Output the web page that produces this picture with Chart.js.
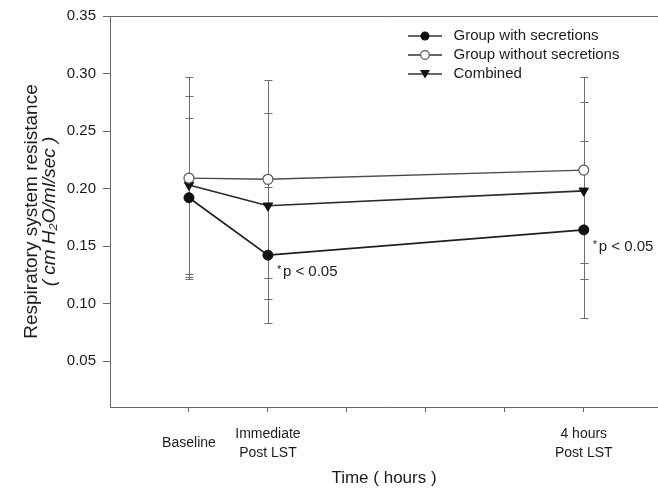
<!DOCTYPE html>
<html>
<head>
<meta charset="utf-8">
<script src="https://cdn.jsdelivr.net/npm/chart.js@4/dist/chart.umd.min.js"></script>
<style>
  html, body { margin: 0; padding: 0; background: #fff; }
  #wrap { width: 658px; height: 500px; }
</style>
</head>
<body>
<div id="wrap"><canvas id="chart" width="658" height="500"></canvas></div>
<script>
// Measurement times (hours relative to LST) and their axis labels
const timePoints = [-1, 0, 4];
const timeLabels = [['Baseline'], ['Immediate', 'Post LST'], ['4 hours', 'Post LST']];
const hourTicks = [-1, 0, 1, 2, 3, 4];
const resistanceTicks = [0.05, 0.10, 0.15, 0.20, 0.25, 0.30, 0.35];

// Respiratory system resistance, mean and SD per time point
const seriesNames = ['Group with secretions', 'Group without secretions', 'Combined'];
const withSecretionsMean = [0.192, 0.142, 0.164];
const withSecretionsSD = [0.069, 0.059, 0.077];
const withoutSecretionsMean = [0.209, 0.208, 0.216];
const withoutSecretionsSD = [0.088, 0.086, 0.081];
const combinedMean = [0.203, 0.185, 0.198];
const combinedSD = [0.077, 0.081, 0.077];

// Significance notes shown beside the "with secretions" points
const significanceNotes = ['', 'p < 0.05', 'p < 0.05'];

const FONT = "'Liberation Sans', Arial, Helvetica, sans-serif";
const INK = '#1c1c1c';
const AXIS = '#666666';
Chart.defaults.font.family = FONT;
Chart.defaults.color = INK;

function points(means, sds) {
  return timePoints.map((t, i) => ({ x: t, y: means[i], sd: sds[i] }));
}

// Small line-with-marker glyphs for the legend
function legendGlyph(kind) {
  const c = document.createElement('canvas');
  c.width = 38; c.height = 14;
  const g = c.getContext('2d');
  g.strokeStyle = '#333'; g.lineWidth = 1.5;
  g.beginPath(); g.moveTo(0, 7); g.lineTo(34, 7); g.stroke();
  g.lineWidth = 1.2;
  if (kind === 'filled') {
    g.fillStyle = '#111';
    g.beginPath(); g.arc(17, 7, 4.5, 0, Math.PI * 2); g.fill();
  } else if (kind === 'open') {
    g.fillStyle = '#fff'; g.strokeStyle = '#555';
    g.beginPath(); g.arc(17, 7, 4.3, 0, Math.PI * 2); g.fill(); g.stroke();
  } else {
    g.fillStyle = '#111';
    g.beginPath(); g.moveTo(12, 3); g.lineTo(22, 3); g.lineTo(17, 11.5); g.closePath(); g.fill();
  }
  return c;
}
const glyphs = [legendGlyph('filled'), legendGlyph('open'), legendGlyph('triangle')];

// Vertical SD bars with caps, drawn beneath the markers
const errorBars = {
  id: 'errorBars',
  beforeDatasetsDraw(chart) {
    const { ctx } = chart;
    const y = chart.scales.y;
    ctx.save();
    ctx.strokeStyle = '#6e6e6e';
    ctx.lineWidth = 1;
    chart.data.datasets.forEach((ds, di) => {
      const meta = chart.getDatasetMeta(di);
      ds.data.forEach((d, i) => {
        const px = Math.round(meta.data[i].x) + 0.5;
        const top = Math.round(y.getPixelForValue(d.y + d.sd)) + 0.5;
        const bot = Math.round(y.getPixelForValue(d.y - d.sd)) + 0.5;
        ctx.beginPath();
        ctx.moveTo(px, top); ctx.lineTo(px, bot);
        ctx.moveTo(px - 4, top); ctx.lineTo(px + 4, top);
        ctx.moveTo(px - 4, bot); ctx.lineTo(px + 4, bot);
        ctx.stroke();
      });
    });
    ctx.restore();
  }
};

// "* p < 0.05" notes placed next to the points of the first series
const notes = {
  id: 'notes',
  afterDatasetsDraw(chart) {
    const { ctx } = chart;
    const meta = chart.getDatasetMeta(0);
    ctx.save();
    ctx.fillStyle = INK;
    ctx.textBaseline = 'middle';
    ctx.textAlign = 'left';
    significanceNotes.forEach((txt, i) => {
      if (!txt) return;
      const pt = meta.data[i];
      ctx.font = '11px ' + FONT;
      ctx.fillText('*', pt.x + 9, pt.y + 15);
      ctx.font = '15px ' + FONT;
      ctx.fillText(txt, pt.x + 15, pt.y + 17);
    });
    ctx.restore();
  }
};

// Places the legend block in the upper right of the plot area
const legendPlacer = {
  id: 'legendPlacer',
  afterLayout(chart) {
    const lg = chart.legend;
    const w = lg.width, h = lg.height;
    lg.left = chart.chartArea.right - 254;
    lg.top = chart.chartArea.top + 8.5;
    lg.right = lg.left + w;
    lg.bottom = lg.top + h;
  }
};

new Chart(document.getElementById('chart'), {
  type: 'line',
  data: {
    datasets: [
      {
        label: seriesNames[0],
        data: points(withSecretionsMean, withSecretionsSD),
        xAxisID: 'x', yAxisID: 'y',
        borderColor: '#1f1f1f', borderWidth: 1.7,
        pointStyle: 'circle', pointRadius: 5,
        pointBackgroundColor: '#111', pointBorderColor: '#111', pointBorderWidth: 1
      },
      {
        label: seriesNames[1],
        data: points(withoutSecretionsMean, withoutSecretionsSD),
        xAxisID: 'x', yAxisID: 'y',
        borderColor: '#4a4a4a', borderWidth: 1.4,
        pointStyle: 'circle', pointRadius: 5,
        pointBackgroundColor: '#fff', pointBorderColor: '#555', pointBorderWidth: 1.2
      },
      {
        label: seriesNames[2],
        data: points(combinedMean, combinedSD),
        xAxisID: 'x', yAxisID: 'y',
        borderColor: '#2a2a2a', borderWidth: 1.7,
        pointStyle: 'triangle', pointRotation: 180, pointRadius: 5.5,
        pointBackgroundColor: '#111', pointBorderColor: '#111', pointBorderWidth: 1
      }
    ]
  },
  options: {
    responsive: false,
    animation: false,
    devicePixelRatio: 1,
    layout: { padding: 0, autoPadding: false },
    elements: { line: { tension: 0 } },
    plugins: {
      tooltip: { enabled: false },
      legend: {
        position: 'chartArea',
        align: 'start',
        labels: {
          usePointStyle: true,
          pointStyleWidth: 38,
          padding: 4,
          color: INK,
          font: { size: 15 },
          generateLabels(chart) {
            const base = Chart.defaults.plugins.legend.labels.generateLabels(chart);
            return base.map((item, i) => Object.assign(item, {
              pointStyle: glyphs[i], rotation: 0, fontColor: INK
            }));
          }
        }
      }
    },
    scales: {
      x: {
        type: 'linear',
        position: 'bottom',
        min: -2,
        max: 4.94,
        afterBuildTicks(scale) { scale.ticks = hourTicks.map(v => ({ value: v })); },
        afterFit(scale) { scale.height = 93; },
        grid: { drawOnChartArea: false, drawTicks: true, tickLength: 5, color: AXIS },
        border: { color: AXIS, width: 1 },
        ticks: {
          autoSkip: false,
          maxRotation: 0,
          padding: 22,
          crossAlign: 'center',
          color: INK,
          font: { size: 14, lineHeight: '19px' },
          callback(value) {
            const i = timePoints.indexOf(value);
            return i >= 0 ? timeLabels[i] : '';
          }
        },
        title: {
          display: true,
          text: 'Time ( hours )',
          color: INK,
          font: { size: 17 },
          padding: { top: 0, bottom: 11 }
        }
      },
      xTop: {
        type: 'linear',
        position: 'top',
        afterFit(scale) { scale.height = 12; },
        grid: { display: false, drawTicks: false },
        ticks: { display: false, padding: 0 },
        border: { color: AXIS, width: 1 }
      },
      yTitle: {
        type: 'linear',
        position: 'left',
        weight: 10,
        afterFit(scale) { scale.width = 36; },
        grid: { display: false, drawTicks: false },
        ticks: { display: false },
        border: { display: false },
        title: {
          display: true,
          text: 'Respiratory system resistance',
          color: INK,
          font: { size: 19 },
          padding: { top: 20, bottom: 0 }
        }
      },
      y: {
        type: 'linear',
        position: 'left',
        weight: 0,
        min: 0.01,
        max: 0.35,
        afterBuildTicks(scale) { scale.ticks = resistanceTicks.map(v => ({ value: v })); },
        afterFit(scale) { scale.width = 74; },
        grid: { drawOnChartArea: false, drawTicks: true, tickLength: 7, color: AXIS },
        border: { color: AXIS, width: 1 },
        ticks: {
          padding: 7,
          color: INK,
          font: { size: 15 },
          callback(value) { return Number(value).toFixed(2); }
        },
        title: {
          display: true,
          text: '( cm H\u2082O/ml/sec )',
          color: INK,
          font: { size: 19, style: 'italic' },
          padding: { top: 2, bottom: 0 }
        }
      }
    }
  },
  plugins: [errorBars, notes, legendPlacer]
});
</script>
</body>
</html>
